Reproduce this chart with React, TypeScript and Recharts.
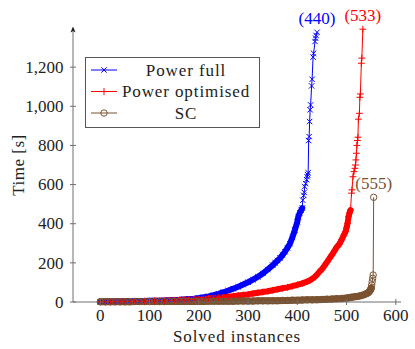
import React from 'react';
import { LineChart, Line, XAxis, YAxis, Legend, ReferenceDot } from 'recharts';

const seriesNames = ['Power full', 'Power optimised', 'SC'];

// Power full: solved instance index -> time [s]
const fullX = [0, 10, 20, 30, 40, 50, 60, 70, 80, 90, 100, 110, 120, 130, 140, 150, 160, 170, 180, 190, 200, 210, 220, 230, 240, 250, 260, 270, 280, 290, 300, 310, 320, 330, 340, 350, 355, 360, 365, 370, 375, 380, 385, 390, 395, 400, 402, 405, 408, 410, 411, 413, 414, 415, 417, 419, 420, 421, 422, 423, 424, 425, 426, 427, 429, 430, 432, 433, 436, 437, 438, 440];
const fullY = [1, 1, 2, 2, 3, 3, 4, 4, 5, 5, 6, 7, 7, 8, 9, 10, 11, 13, 15, 17, 20, 24, 29, 35, 42, 50, 59, 68, 78, 89, 101, 114, 129, 146, 166, 188, 200, 212, 225, 240, 257, 277, 298, 330, 368, 410, 436, 455, 470, 480, 520, 545, 560, 590, 605, 625, 640, 650, 660, 825, 845, 922, 982, 1007, 1104, 1138, 1251, 1271, 1331, 1348, 1362, 1378];

// Power optimised
const optX = [0, 10, 20, 30, 40, 50, 60, 70, 80, 90, 100, 110, 120, 130, 140, 150, 160, 170, 180, 190, 200, 210, 220, 230, 240, 250, 260, 270, 280, 290, 300, 310, 320, 330, 340, 350, 360, 370, 380, 390, 400, 410, 420, 425, 430, 435, 440, 445, 450, 455, 460, 465, 470, 475, 480, 485, 490, 495, 498, 500, 502, 504, 506, 508, 510, 511, 513, 515, 517, 518, 519, 520, 521, 522, 523, 524, 526, 527, 528, 530, 531, 533];
const optY = [1, 1, 1, 2, 2, 3, 3, 4, 4, 5, 5, 6, 6, 7, 8, 9, 10, 11, 12, 13, 14, 16, 18, 20, 22, 24, 27, 30, 33, 36, 39, 43, 47, 51, 55, 60, 65, 70, 75, 81, 88, 95, 104, 110, 118, 127, 140, 155, 168, 185, 203, 222, 240, 260, 280, 295, 318, 345, 360, 380, 402, 436, 455, 470, 556, 573, 640, 666, 683, 700, 726, 760, 800, 825, 842, 934, 964, 1046, 1063, 1220, 1246, 1394];

// SC
const scX = [0, 10, 20, 30, 40, 50, 60, 70, 80, 90, 100, 110, 120, 130, 140, 150, 160, 170, 180, 190, 200, 210, 220, 230, 240, 250, 260, 270, 280, 290, 300, 310, 320, 330, 340, 350, 360, 370, 380, 390, 400, 410, 420, 430, 440, 450, 460, 470, 480, 490, 500, 505, 510, 515, 520, 525, 530, 535, 540, 543, 545, 547, 548, 549, 550, 551, 552, 553, 554, 555];
const scY = [1, 1, 1, 1, 1, 1, 1, 2, 2, 2, 2, 2, 2, 2, 3, 3, 3, 3, 3, 3, 3, 3, 4, 4, 4, 4, 4, 4, 5, 5, 5, 5, 6, 6, 6, 7, 7, 8, 8, 9, 9, 10, 11, 11, 12, 13, 14, 15, 17, 18, 20, 22, 24, 26, 28, 30, 33, 37, 42, 46, 50, 56, 60, 65, 70, 87, 104, 121, 138, 535];

const xTicks = [0, 100, 200, 300, 400, 500, 600];
const yTicks = [0, 200, 400, 600, 800, 1000, 1200];
const xDomain: [number, number] = [-55.5, 610.5];
const yDomain: [number, number] = [0, 1400];

const toPoints = (xs: number[], ys: number[]) => xs.map((x, i) => ({ x, y: ys[i] }));
const fullData = toPoints(fullX, fullY);
const optData = toPoints(optX, optY);
const scData = toPoints(scX, scY);

// dense parts drawn as a thick band (marks overlap there)
const fullBand = fullData.filter((d) => d.x <= 410);
const optBand = optData.filter((d) => d.x <= 508);
const scBand = scData.filter((d) => d.x <= 550);

const FONT = '"Liberation Serif", "Times New Roman", serif';
const AXIS = '#6e6e6e';
const COLORS = ['#0000ff', '#ff0000', '#7a5230'];
const KINDS = ['x', '+', 'o'];

function Marker({ cx, cy, kind, color }: { cx: number; cy: number; kind: string; color: string }) {
  if (kind === 'x') {
    const s = 2.7;
    return (
      <path
        d={`M${cx - s},${cy - s}L${cx + s},${cy + s}M${cx - s},${cy + s}L${cx + s},${cy - s}`}
        stroke={color}
        strokeWidth={1}
        fill="none"
      />
    );
  }
  if (kind === '+') {
    const s = 3.4;
    return (
      <path
        d={`M${cx - s},${cy}L${cx + s},${cy}M${cx},${cy - s}L${cx},${cy + s}`}
        stroke={color}
        strokeWidth={1}
        fill="none"
      />
    );
  }
  return <circle cx={cx} cy={cy} r={3.2} fill="none" stroke={color} strokeWidth={1} />;
}

const makeDot = (kind: string, color: string) => (props: any) => {
  const { cx, cy, index } = props;
  if (cx == null || cy == null) return <g key={`e${kind}${index}`} />;
  return (
    <g key={`${kind}${index}`}>
      <Marker cx={cx} cy={cy} kind={kind} color={color} />
    </g>
  );
};

const fmt = (v: number) => v.toLocaleString('en-US');

const YTick = (props: any) => {
  const { x, y, payload } = props;
  return (
    <g>
      <line x1={x - 3} x2={x + 3} y1={y} y2={y} stroke={AXIS} strokeWidth={1} />
      <text x={x - 9.5} y={y} dy="0.34em" textAnchor="end" fontFamily={FONT} fontSize={17} fill="#222">
        {fmt(payload.value)}
      </text>
    </g>
  );
};

const XTick = (props: any) => {
  const { x, y, payload } = props;
  return (
    <g>
      <line x1={x} x2={x} y1={y - 3} y2={y + 3} stroke={AXIS} strokeWidth={1} />
      <text x={x} y={y + 19} textAnchor="middle" fontFamily={FONT} fontSize={17} fill="#222">
        {fmt(payload.value)}
      </text>
    </g>
  );
};

const XTitle = (props: any) => {
  const vb = props.viewBox || {};
  const cx = (vb.x ?? 73) + (vb.width ?? 328) / 2;
  return (
    <text x={cx} y={342} textAnchor="middle" fontFamily={FONT} fontSize={17} letterSpacing={0.9} fill="#222">
      Solved instances
    </text>
  );
};

const YTitle = (props: any) => {
  const vb = props.viewBox || {};
  const cy = (vb.y ?? 28) + (vb.height ?? 274) / 2;
  return (
    <text
      x={24}
      y={cy}
      transform={`rotate(-90, 24, ${cy})`}
      textAnchor="middle"
      fontFamily={FONT}
      fontSize={17}
      letterSpacing={0.5}
      fill="#222"
    >
      Time [s]
    </text>
  );
};

const Arrow = (props: any) => {
  const { cx, cy } = props;
  if (cx == null || cy == null) return <g />;
  return <path d={`M${cx},${cy - 1.5}L${cx - 2.6},${cy + 4.5}L${cx},${cy + 3}L${cx + 2.6},${cy + 4.5}Z`} fill="#222" />;
};

const LegendBox = () => (
  <svg width={176} height={72} style={{ display: 'block' }}>
    <rect x={0.5} y={0.5} width={174} height={70} fill="#fff" stroke="#555" strokeWidth={1} />
    {seriesNames.map((name, i) => {
      const cy = 13 + i * 21.5;
      return (
        <g key={name}>
          <line x1={6} x2={32} y1={cy} y2={cy} stroke={COLORS[i]} strokeWidth={1} />
          <Marker cx={19} cy={cy} kind={KINDS[i]} color={COLORS[i]} />
          <text x={101} y={cy} dy="0.34em" textAnchor="middle" fontFamily={FONT} fontSize={17} letterSpacing={0.9} fill="#222">
            {name}
          </text>
        </g>
      );
    })}
  </svg>
);

const ends = [fullData, optData, scData].map((d) => d[d.length - 1]);

export default function App() {
  return (
    <div style={{ position: 'absolute', left: 0, top: 0, width: 415, height: 349, background: '#fff' }}>
      <LineChart width={415} height={349} margin={{ top: 28, right: 14, left: 0, bottom: 0 }}>
        <XAxis
          type="number"
          dataKey="x"
          domain={xDomain}
          ticks={xTicks}
          interval={0}
          tickSize={0}
          tickMargin={0}
          tickLine={false}
          tick={<XTick />}
          axisLine={{ stroke: AXIS, strokeWidth: 1 }}
          height={47}
          label={XTitle}
        />
        <YAxis
          type="number"
          domain={yDomain}
          ticks={yTicks}
          interval={0}
          tickSize={0}
          tickMargin={0}
          tickLine={false}
          tick={<YTick />}
          axisLine={{ stroke: AXIS, strokeWidth: 1 }}
          width={73}
          label={YTitle}
        />
        <Legend
          layout="vertical"
          verticalAlign="middle"
          align="center"
          content={() => <LegendBox />}
          wrapperStyle={{ left: 85, top: 57, width: 176, height: 72 }}
        />
        <Line data={fullBand} dataKey="y" stroke={COLORS[0]} strokeWidth={6} strokeLinecap="round" strokeLinejoin="round" dot={false} activeDot={false} legendType="none" isAnimationActive={false} />
        <Line data={fullData} dataKey="y" name={seriesNames[0]} stroke={COLORS[0]} strokeWidth={1} dot={makeDot('x', COLORS[0])} activeDot={false} isAnimationActive={false} />
        <Line data={optBand} dataKey="y" stroke={COLORS[1]} strokeWidth={6} strokeLinecap="round" strokeLinejoin="round" dot={false} activeDot={false} legendType="none" isAnimationActive={false} />
        <Line data={optData} dataKey="y" name={seriesNames[1]} stroke={COLORS[1]} strokeWidth={1} dot={makeDot('+', COLORS[1])} activeDot={false} isAnimationActive={false} />
        <Line data={scBand} dataKey="y" stroke={COLORS[2]} strokeWidth={7} strokeLinecap="round" strokeLinejoin="round" dot={false} activeDot={false} legendType="none" isAnimationActive={false} />
        <Line data={scData} dataKey="y" name={seriesNames[2]} stroke={COLORS[2]} strokeWidth={1} dot={makeDot('o', COLORS[2])} activeDot={false} isAnimationActive={false} />
        <ReferenceDot x={xDomain[0]} y={yDomain[1]} r={0} ifOverflow="visible" shape={Arrow} />
        {ends.map((p, i) => (
          <ReferenceDot
            key={`end${i}`}
            x={p.x}
            y={p.y}
            r={0}
            fill="none"
            stroke="none"
            ifOverflow="visible"
            label={{ value: `(${p.x})`, position: 'top', offset: 8, fill: COLORS[i], fontSize: 17, fontFamily: FONT }}
          />
        ))}
      </LineChart>
    </div>
  );
}
